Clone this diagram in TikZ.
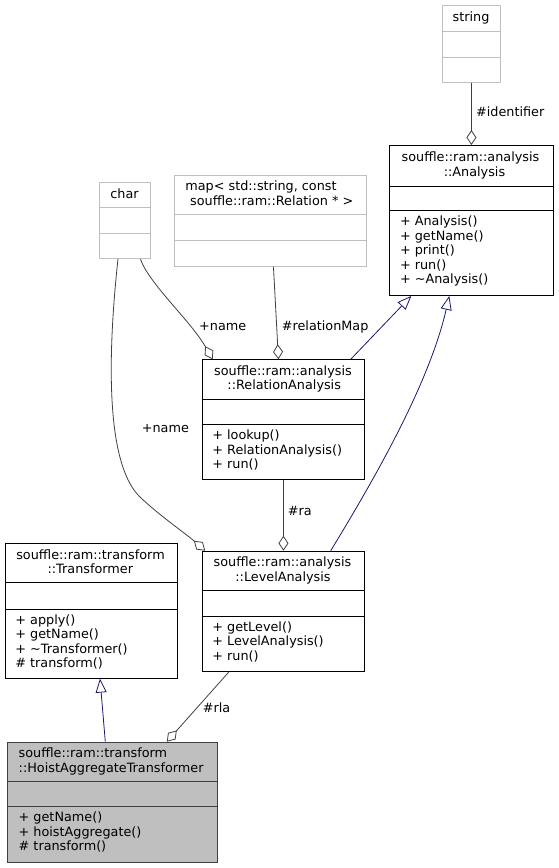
\documentclass[tikz,border=0pt]{standalone}
\usepackage{fontspec}
\setmainfont{DejaVu Sans}
\usetikzlibrary{arrows.meta}
\definecolor{edgegray}{HTML}{404040}
\definecolor{extgray}{HTML}{BFBFBF}
\definecolor{inhblue}{HTML}{191970}
\definecolor{focusfill}{HTML}{BFBFBF}
\newcommand{\clsbox}[8]{%
  \node[#2, anchor=north west, inner sep=0pt, minimum width=#5-#3, minimum height=#6-#4] (#1) at (#3,#4) {};
  \draw[#2, fill=none] (#3,#7) -- (#5,#7) (#3,#8) -- (#5,#8);
}
\newcommand{\ctext}[4]{\node[txt, anchor=base] (#1) at (#2,#3) {#4};}
\newcommand{\ltext}[4]{\node[txt, anchor=base west] (#1) at (#2,#3) {#4};}
\begin{document}
\begin{tikzpicture}[x=1pt, y=-1pt,
  txt/.style={font=\fontsize{12.8}{14.5}\selectfont, inner sep=0pt, text=black},
  classbox/.style={draw=black, fill=white, line width=0.9pt},
  extbox/.style={draw=extgray, fill=white, line width=0.9pt},
  focusbox/.style={draw=edgegray, fill=focusfill, line width=0.9pt},
  assoc/.style={draw=edgegray, line width=0.8pt, -{Diamond[open, length=15pt, width=10pt]}},
  inherit/.style={draw=inhblue, line width=0.8pt, -{Triangle[open, length=14pt, width=11pt]}},
  lbl/.style={txt, anchor=base west}]
\useasboundingbox (0,0) rectangle (558,868);

% string
\clsbox{str}{extbox}{442}{5}{500}{82}{31.5}{57}
\ctext{strt}{471}{21}{string}

% Analysis
\clsbox{ana}{classbox}{389.3}{145}{552.7}{295}{186}{210.7}
\ctext{anat1}{470.5}{161.5}{souffle::ram::analysis}
\ctext{anat2}{474.5}{176}{::Analysis}
\ltext{anam1}{399.8}{225.7}{+ Analysis()}
\ltext{anam2}{399.8}{240.2}{+ getName()}
\ltext{anam3}{399.8}{254.7}{+ print()}
\ltext{anam4}{399.8}{269.2}{+ run()}
\ltext{anam5}{399.8}{283.7}{+ \textasciitilde Analysis()}

% char
\clsbox{chr}{extbox}{99}{182.3}{150}{258.3}{207.7}{233.3}
\ctext{chrt}{124.5}{198}{char}

% map
\clsbox{map}{extbox}{174}{175}{366}{266}{214.3}{240.7}
\ctext{mapt1}{261}{190.5}{map< std::string, const}
\ctext{mapt2}{271.7}{205}{souffle::ram::Relation * >}

% RelationAnalysis
\clsbox{rel}{classbox}{201.7}{359.3}{364.3}{479}{399.5}{424.5}
\ctext{relt1}{283}{375.3}{souffle::ram::analysis}
\ctext{relt2}{284.2}{389.8}{::RelationAnalysis}
\ltext{relm1}{212.2}{439.5}{+ lookup()}
\ltext{relm2}{212.2}{454}{+ RelationAnalysis()}
\ltext{relm3}{212.2}{468.5}{+ run()}

% Transformer
\clsbox{tr}{classbox}{4.7}{543.3}{176.7}{677.7}{582.3}{609}
\ctext{trt1}{90.5}{559.3}{souffle::ram::transform}
\ctext{trt2}{90.3}{573.8}{::Transformer}
\ltext{trm1}{15.2}{624}{+ apply()}
\ltext{trm2}{15.2}{638.5}{+ getName()}
\ltext{trm3}{15.2}{653}{+ \textasciitilde Transformer()}
\ltext{trm4}{15.2}{667.5}{\# transform()}

% LevelAnalysis
\clsbox{lvl}{classbox}{201.7}{550.7}{364.3}{670.7}{590.7}{616}
\ctext{lvlt1}{282.5}{566.7}{souffle::ram::analysis}
\ctext{lvlt2}{283}{581}{::LevelAnalysis}
\ltext{lvlm1}{212.2}{631}{+ getLevel()}
\ltext{lvlm2}{212.2}{645.5}{+ LevelAnalysis()}
\ltext{lvlm3}{212.2}{660}{+ run()}

% HoistAggregateTransformer
\clsbox{hat}{focusbox}{7.3}{741.7}{217.3}{861.7}{781.7}{806.7}
\ltext{hatt1}{18.5}{757.7}{souffle::ram::transform}
\ltext{hatt2}{18.5}{772.2}{::HoistAggregateTransformer}
\ltext{hatm1}{18.5}{821.7}{+ getName()}
\ltext{hatm2}{18.5}{836.2}{+ hoistAggregate()}
\ltext{hatm3}{18.5}{850.7}{\# transform()}

% connectors
\draw[assoc] (str.south) -- (ana.north);
\node[lbl] (lid) at (476,116.7) {\#identifier};

\draw[assoc] ([xshift=3pt]map.south) -- ([xshift=-5pt]rel.north);
\node[lbl] (lrm) at (281.7,330) {\#relationMap};

\draw[assoc] ([xshift=15.5pt]chr.south) .. controls (150,285) and (190,320) .. ([xshift=11pt]rel.north west);
\node[lbl] (ln1) at (199,330) {+name};

\draw[assoc] ([xshift=-7pt]chr.south) .. controls (105,380) and (110,468) .. (140,497) .. controls (160,516) and (185,533) .. ([xshift=3.5pt]lvl.north west);
\node[lbl] (ln2) at (141.7,432) {+name};

\draw[assoc] (rel.south) -- (lvl.north);
\node[lbl] (lra) at (287.7,515) {\#ra};

\draw[assoc] ([xshift=27.5pt]lvl.south west) -- ([xshift=159.5pt]hat.north west);
\node[lbl] (lrla) at (202.7,712.7) {\#rla};

\draw[inherit] ([xshift=98pt]hat.north west) -- ([xshift=95.3pt]tr.south west);
\draw[inherit] ([xshift=149pt]rel.north west) -- ([xshift=22pt]ana.south west);
\draw[inherit] ([xshift=129pt]lvl.north west) .. controls (380,470) and (430,380) .. ([xshift=60pt]ana.south west);
\end{tikzpicture}
\end{document}
